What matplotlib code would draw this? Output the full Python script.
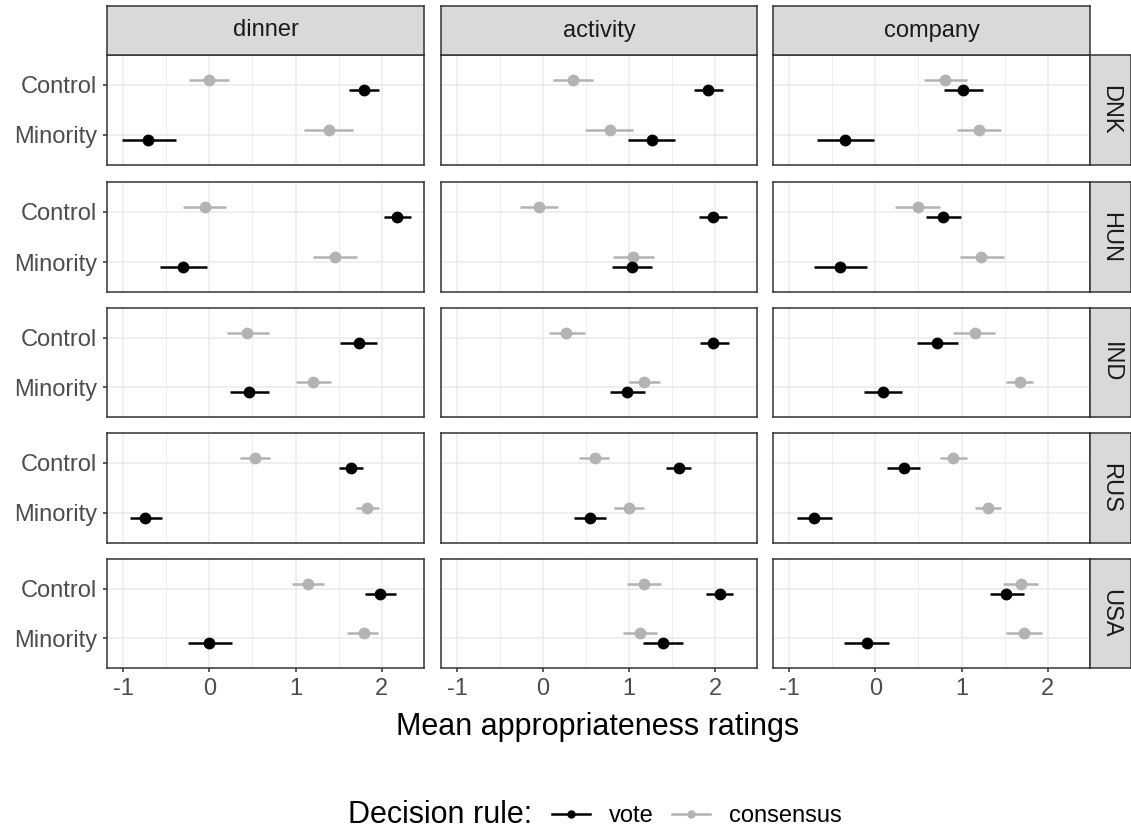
import numpy as np
import matplotlib
matplotlib.use("Agg")
import matplotlib.pyplot as plt
from matplotlib.lines import Line2D

plt.rcParams['font.family'] = ['Liberation Sans', 'DejaVu Sans']

countries = ["DNK", "HUN", "IND", "RUS", "USA"]
contexts = ["dinner", "activity", "company"]
conditions = ["Control", "Minority"]
rules = ["vote", "consensus"]

# [country][context] = [Control, Minority]
vote_mean = [[[1.79, -0.71], [1.92, 1.27], [1.02, -0.35]],
             [[2.18, -0.31], [1.98, 1.03], [0.79, -0.41]],
             [[1.74, 0.46], [1.98, 0.98], [0.72, 0.09]],
             [[1.64, -0.74], [1.58, 0.55], [0.33, -0.71]],
             [[1.98, 0.00], [2.06, 1.40], [1.52, -0.10]]]
vote_lo = [[[1.62, -1.01], [1.75, 0.99], [0.80, -0.68]],
           [[2.03, -0.57], [1.81, 0.80], [0.59, -0.71]],
           [[1.52, 0.24], [1.82, 0.78], [0.48, -0.13]],
           [[1.50, -0.92], [1.43, 0.36], [0.14, -0.91]],
           [[1.80, -0.25], [1.90, 1.16], [1.33, -0.36]]]
vote_hi = [[[1.97, -0.39], [2.09, 1.54], [1.25, -0.01]],
           [[2.34, -0.03], [2.14, 1.27], [0.99, -0.10]],
           [[1.94, 0.69], [2.16, 1.19], [0.96, 0.31]],
           [[1.78, -0.55], [1.72, 0.73], [0.52, -0.50]],
           [[2.16, 0.26], [2.21, 1.63], [1.72, 0.16]]]
cons_mean = [[[0.00, 1.39], [0.35, 0.78], [0.81, 1.20]],
             [[-0.05, 1.46], [-0.05, 1.05], [0.49, 1.23]],
             [[0.44, 1.20], [0.27, 1.18], [1.15, 1.68]],
             [[0.53, 1.83], [0.60, 1.00], [0.90, 1.31]],
             [[1.14, 1.79], [1.18, 1.13], [1.69, 1.72]]]
cons_lo = [[[-0.24, 1.10], [0.12, 0.49], [0.56, 0.95]],
           [[-0.30, 1.20], [-0.27, 0.81], [0.23, 0.98]],
           [[0.21, 1.00], [0.07, 1.00], [0.90, 1.52]],
           [[0.36, 1.70], [0.42, 0.83], [0.75, 1.16]],
           [[0.96, 1.60], [0.98, 0.93], [1.48, 1.52]]]
cons_hi = [[[0.23, 1.67], [0.58, 1.05], [1.06, 1.46]],
           [[0.19, 1.71], [0.18, 1.29], [0.75, 1.49]],
           [[0.69, 1.41], [0.49, 1.36], [1.39, 1.83]],
           [[0.70, 1.97], [0.77, 1.17], [1.06, 1.46]],
           [[1.33, 1.96], [1.37, 1.33], [1.89, 1.93]]]

vote_col = "black"
cons_col = "#B3B3B3"
border = "#333333"
W, H = 1131, 831

fig = plt.figure(figsize=(W / 100, H / 100), dpi=100)

col_x = [(107, 424), (441, 757), (773, 1090)]
row_y = [(55, 165), (182, 292), (308, 417), (433, 543), (559, 668)]


def px_axes(x0, x1, y0, y1):
    return fig.add_axes([x0 / W, 1 - y1 / H, (x1 - x0) / W, (y1 - y0) / H])


ypos = np.array([2, 1])  # Control on top
for r, ctry in enumerate(countries):
    for c, ctx in enumerate(contexts):
        x0, x1 = col_x[c]
        y0, y1 = row_y[r]
        ax = px_axes(x0, x1, y0, y1)
        ax.set_xlim(-1.186, 2.488)
        ax.set_ylim(0.4, 2.6)
        ax.set_xticks([-1, 0, 1, 2])
        ax.set_xticks([-0.5, 0.5, 1.5], minor=True)
        ax.set_yticks(ypos)
        ax.grid(True, which='major', color='#EBEBEB', linewidth=1.1)
        ax.grid(True, which='minor', axis='x', color='#EBEBEB', linewidth=0.6)
        ax.set_axisbelow(True)
        for s in ax.spines.values():
            s.set_color(border)
            s.set_linewidth(1.1)
        ax.tick_params(which='minor', length=0)
        ax.tick_params(which='major', length=3, width=1.1, color=border,
                       labelcolor='#4D4D4D', labelsize=17, pad=4)

        # consensus (dodged up) then vote (dodged down)
        m = np.array(cons_mean[r][c]); lo = np.array(cons_lo[r][c]); hi = np.array(cons_hi[r][c])
        ax.hlines(ypos + 0.1, lo, hi, color=cons_col, linewidth=1.8, zorder=3)
        ax.plot(m, ypos + 0.1, 'o', color=cons_col, markersize=7.5, zorder=4)
        m = np.array(vote_mean[r][c]); lo = np.array(vote_lo[r][c]); hi = np.array(vote_hi[r][c])
        ax.hlines(ypos - 0.1, lo, hi, color=vote_col, linewidth=1.8, zorder=3)
        ax.plot(m, ypos - 0.1, 'o', color=vote_col, markersize=7.5, zorder=4)

        if c == 0:
            ax.set_yticklabels(conditions)
        else:
            ax.set_yticklabels([])
            ax.tick_params(axis='y', which='major', length=0)
        if r == len(countries) - 1:
            ax.set_xticklabels(['-1', '0', '1', '2'])
        else:
            ax.set_xticklabels([])
            ax.tick_params(axis='x', which='major', length=0)

        # top strips
        if r == 0:
            sx = px_axes(x0, x1, 6, 55)
            sx.set_facecolor('#D9D9D9')
            sx.set_xticks([]); sx.set_yticks([])
            for s in sx.spines.values():
                s.set_color(border); s.set_linewidth(1.1)
            sx.text(0.5, 0.5, ctx, ha='center', va='center', fontsize=17,
                    color='#1A1A1A', transform=sx.transAxes)
        # right strips
        if c == len(contexts) - 1:
            sy = px_axes(1090, 1131, y0, y1)
            sy.set_facecolor('#D9D9D9')
            sy.set_xticks([]); sy.set_yticks([])
            for s in sy.spines.values():
                s.set_color(border); s.set_linewidth(1.1)
            sy.text(0.5, 0.5, ctry, ha='center', va='center', fontsize=17,
                    rotation=-90, color='#1A1A1A', transform=sy.transAxes)

fig.text(598 / W, 1 - 727 / H, "Mean appropriateness ratings", ha='center',
         va='center', fontsize=22, color='black')

fig.text(348 / W, 1 - 815 / H, "Decision rule:", ha='left', va='center',
         fontsize=22, color='black')
handles = [Line2D([], [], color=vote_col, marker='o', markersize=5, linewidth=1.8),
           Line2D([], [], color=cons_col, marker='o', markersize=5, linewidth=1.8)]
fig.legend(handles, rules, loc='center left', bbox_to_anchor=(552 / W, 1 - 816 / H),
           ncol=2, frameon=False, fontsize=17, handlelength=1.6, handletextpad=0.8,
           columnspacing=0.8, borderpad=0, borderaxespad=0)

fig.savefig("out.png", dpi=100, facecolor='white')
